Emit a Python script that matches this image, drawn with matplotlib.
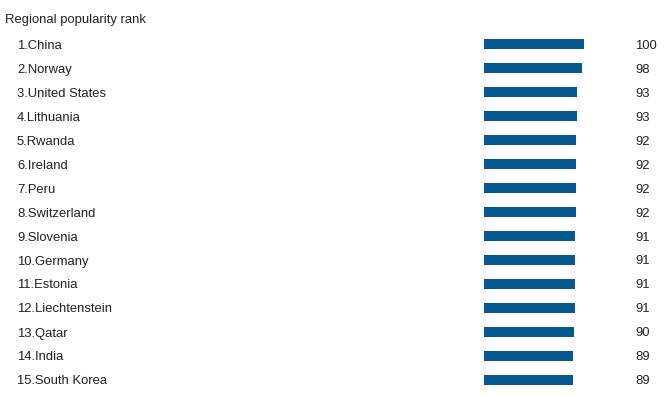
import matplotlib.pyplot as plt
import matplotlib.transforms as mtransforms

countries = ['China', 'Norway', 'United States', 'Lithuania', 'Rwanda', 'Ireland', 'Peru',
             'Switzerland', 'Slovenia', 'Germany', 'Estonia', 'Liechtenstein', 'Qatar',
             'India', 'South Korea']
scores = [100, 98, 93, 93, 92, 92, 92, 92, 91, 91, 91, 91, 90, 89, 89]

plt.rcParams['font.family'] = ['Liberation Sans', 'DejaVu Sans']

W, H = 664, 396
fig = plt.figure(figsize=(W / 100, H / 100), dpi=100)

# axes: bars start at x=484px, 1px per point; rows 24px apart, first centred at y=44
ax = fig.add_axes([484 / W, 1 - 392 / H, 100 / W, 360 / H])
ax.set_xlim(0, 100)
ax.set_ylim(len(countries) - 0.5, -0.5)
ax.axis('off')

pos = list(range(len(countries)))
ax.barh(pos, scores, height=0.39, color='#05598f', linewidth=0)

# nudge text down ~1.5px
shift = mtransforms.ScaledTranslation(0, -1.5 / 100, fig.dpi_scale_trans)
trans = mtransforms.blended_transform_factory(fig.transFigure, ax.transData) + shift
for i, (c, s) in enumerate(zip(countries, scores)):
    ax.text(17 / W, i, f'{i + 1}.{c}', transform=trans, ha='left', va='center',
            fontsize=9.4, color='#222222')
    ax.text(635 / W, i, str(s), transform=trans, ha='left', va='center',
            fontsize=9.4, color='#222222')

fig.text(5 / W, 1 - 19.5 / H, 'Regional popularity rank', ha='left', va='center',
         fontsize=9.4, color='#222222')

fig.savefig('out.png', dpi=100)
